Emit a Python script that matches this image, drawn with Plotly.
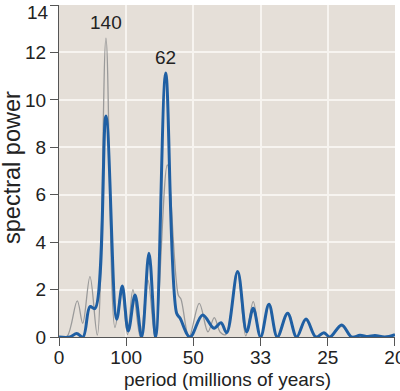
import plotly.graph_objects as go

# frequency (cycles per million years) and spectral power
blue_freq = [0.0, 0.00164, 0.00263, 0.00357, 0.00461, 0.00536, 0.00699, 0.00859, 0.00942,
             0.01031, 0.01131, 0.01231, 0.01339, 0.01439, 0.01588, 0.01751, 0.01801, 0.01949,
             0.02138, 0.02307, 0.02411, 0.02496, 0.02659, 0.02793, 0.02891, 0.03001, 0.03125,
             0.03249, 0.03403, 0.03537, 0.03676, 0.03824, 0.03943, 0.04033, 0.04207, 0.04356,
             0.04479, 0.04598, 0.04702, 0.04851, 0.05]
blue_power = [0.0, 0.0, 0.15, 0.0, 1.28, 1.2, 9.32, 0.75, 2.15,
              0.25, 1.77, 0.0, 3.53, 0.0, 11.13, 1.0, 0.8, 0.0,
              0.93, 0.37, 0.6, 0.18, 2.76, 0.22, 1.21, 0.0, 1.38,
              0.0, 1.0, 0.0, 0.76, 0.0, 0.18, 0.0, 0.51, 0.0,
              0.07, 0.02, 0.06, 0.0, 0.1]

gray_freq = [0.0, 0.00115, 0.00272, 0.00353, 0.00461, 0.0057, 0.00699, 0.00833, 0.0093,
             0.0102, 0.0110, 0.0121, 0.01324, 0.0143, 0.01612, 0.01775, 0.01815, 0.01935,
             0.02088, 0.02217, 0.02311, 0.0240, 0.0248, 0.02656, 0.0278, 0.02891, 0.0300,
             0.03125, 0.03245, 0.03403, 0.03537, 0.03676, 0.03824, 0.03943, 0.04033, 0.04207,
             0.04356, 0.04479, 0.04598, 0.04702, 0.04851, 0.05]
gray_power = [0.0, 0.0, 1.52, 0.58, 2.55, 0.08, 12.6, 0.4, 2.0,
              0.1, 2.0, 0.0, 2.4, 0.0, 7.26, 1.77, 1.6, 0.0,
              1.42, 0.22, 0.82, 0.2, 0.1, 2.7, 0.05, 1.49, 0.0,
              1.3, 0.0, 0.95, 0.0, 0.7, 0.0, 0.15, 0.0, 0.45,
              0.0, 0.05, 0.0, 0.05, 0.0, 0.08]

x_tickvals = [0, 0.01, 0.02, 0.03, 0.04, 0.05]
x_ticktext = ["0", "100", "50", "33", "25", "20"]
y_tickvals = [0, 2, 4, 6, 8, 10, 12, 14]
y_ticktext = ["0", "2", "4", "6", "8", "10", "12", ""]
y_top_label = "14"

peak_labels = ["140", "62"]
peak_freq = [0.00699, 0.01588]
peak_power = [12.6, 11.13]

x_title = "period (millions of years)"
y_title = "spectral power"

font_family = "Liberation Sans, Arial, sans-serif"

fig = go.Figure()
fig.add_trace(go.Scatter(x=gray_freq, y=gray_power, mode="lines",
                         line=dict(color="#9a9a9a", width=1.3, shape="spline", smoothing=1.0),
                         hoverinfo="skip"))
fig.add_trace(go.Scatter(x=blue_freq, y=blue_power, mode="lines",
                         line=dict(color="#1f5fa3", width=3, shape="spline", smoothing=1.0),
                         hoverinfo="skip"))

for lab, fx, py in zip(peak_labels, peak_freq, peak_power):
    fig.add_annotation(x=fx, y=py, text=lab, showarrow=False, yshift=16,
                       font=dict(size=19, color="#222", family=font_family))

# top y tick label, nudged down so it stays inside the page
fig.add_annotation(xref="paper", yref="y", x=0, y=y_tickvals[-1], xanchor="right",
                   yanchor="middle", xshift=-8, yshift=-7, text=y_top_label,
                   showarrow=False, font=dict(size=19, color="#222", family=font_family))

# axis titles
fig.add_annotation(xref="paper", yref="paper", x=0.5, y=-0.127, yanchor="middle",
                   text=x_title, showarrow=False,
                   font=dict(size=19, color="#222", family=font_family))
fig.add_annotation(xref="paper", yref="paper", x=-0.14, y=0.512, xanchor="center",
                   yanchor="middle", textangle=-90, text=y_title, showarrow=False,
                   font=dict(size=23.5, color="#222", family=font_family))

fig.update_layout(
    width=400, height=391,
    margin=dict(l=59, r=5, t=5, b=54, autoexpand=False),
    paper_bgcolor="white",
    plot_bgcolor="#e5dfd8",
    showlegend=False,
    font=dict(family=font_family, size=19, color="#222"),
)
fig.update_xaxes(range=[0, 0.05001], tickvals=x_tickvals, ticktext=x_ticktext,
                 showgrid=True, gridcolor="#f7f4f0", gridwidth=1.5,
                 showline=True, linecolor="#555", linewidth=1.2,
                 ticks="outside", ticklen=8, tickcolor="#555",
                 tickfont=dict(size=19), ticklabeloverflow="allow",
                 ticklabelstandoff=-5,
                 zeroline=False, fixedrange=True, automargin=False)
fig.update_yaxes(range=[0, 14], tickvals=y_tickvals, ticktext=y_ticktext,
                 showgrid=True, gridcolor="#f7f4f0", gridwidth=1.5,
                 showline=True, linecolor="#555", linewidth=1.2,
                 ticks="outside", ticklen=8, tickcolor="#555",
                 tickfont=dict(size=19), ticklabeloverflow="allow",
                 zeroline=False, fixedrange=True, automargin=False)

fig.write_html("out.html", config={"displayModeBar": False},
               post_script="document.body.style.margin='0';")
